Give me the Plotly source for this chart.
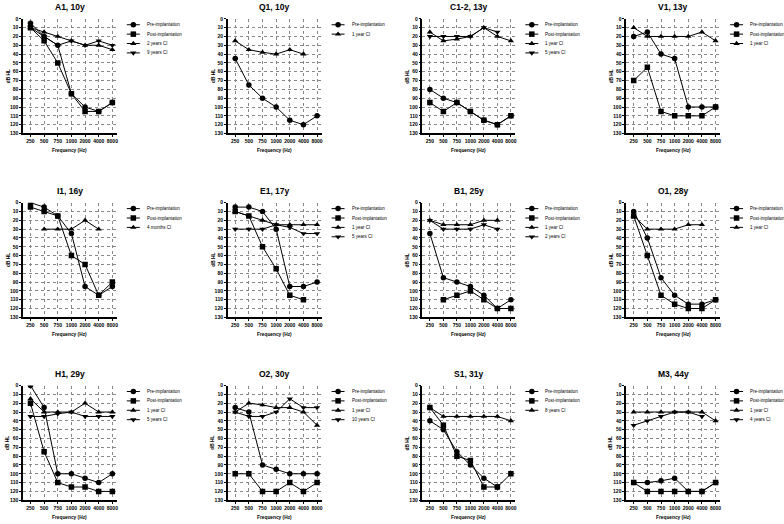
import plotly.graph_objects as go

W, H = 784, 524

freq = ["250", "500", "750", "1000", "2000", "4000", "8000"]
y_ticks = list(range(0, 131, 10))

titles = ["A1, 10y", "Q1, 10y", "C1-2, 13y", "V1, 13y",
          "I1, 16y", "E1, 17y", "B1, 25y", "O1, 28y",
          "H1, 29y", "O2, 30y", "S1, 31y", "M3, 44y"]

A1_pre = [5, 20, 30, 85, 100, 105, 95]
A1_post = [10, 25, 50, 85, 105, 105, 95]
A1_ci_2y = [10, 15, 20, 25, 30, 30, 35]
A1_ci_9y = [10, 20, 30, 25, 30, 25, 30]

Q1_pre = [45, 75, 90, 100, 115, 120, 110]
Q1_ci_1y = [25, 35, 38, 40, 35, 40, None]

C12_pre = [80, 90, 95, 105, 115, 120, 110]
C12_post = [95, 105, 95, 105, 115, 120, 110]
C12_ci_1y = [15, 25, 23, 20, 10, 20, 25]
C12_ci_5y = [20, 20, 20, 20, 10, 15, None]

V1_pre = [20, 15, 40, 45, 100, 100, 100]
V1_post = [70, 55, 105, 110, 110, 110, 100]
V1_ci_1y = [10, 20, 20, 20, 20, 15, 25]

I1_pre = [0, 5, 15, 35, 95, 105, 95]
I1_post = [5, 10, 15, 60, 70, 105, 90]
I1_ci_4m = [None, 30, 30, 30, 20, 30, None]

E1_pre = [5, 5, 10, 30, 95, 95, 90]
E1_post = [10, 15, 50, 75, 105, 110, None]
E1_ci_1y = [10, 15, 20, 25, 25, 25, 25]
E1_ci_5y = [30, 30, 30, 25, 28, 35, 35]

B1_pre = [35, 85, 90, 95, 105, 120, 110]
B1_post = [None, 110, 105, 100, 110, 120, 120]
B1_ci_1y = [20, 25, 25, 25, 20, 20, None]
B1_ci_2y = [20, 30, 30, 30, 25, 30, None]

O1_pre = [10, 40, 85, 105, 115, 115, 110]
O1_post = [15, 60, 105, 115, 120, 120, 110]
O1_ci_1y = [15, 30, 30, 30, 25, 25, None]

H1_pre = [0, 25, 100, 100, 105, 110, 100]
H1_post = [20, 75, 110, 115, 115, 120, 120]
H1_ci_1y = [15, 30, 30, 30, 20, 30, 30]
H1_ci_5y = [35, 35, 32, 30, 35, 35, 35]

O2_pre = [25, 30, 90, 95, 100, 100, 100]
O2_post = [100, 100, 120, 120, 110, 120, 110]
O2_ci_1y = [30, 20, 22, 25, 25, 30, 45]
O2_ci_10y = [30, 35, 35, 30, 15, 25, 25]

S1_pre = [40, 50, 75, 90, 105, 115, None]
S1_post = [25, 45, 80, 85, 115, 115, 100]
S1_ci_8y = [25, 35, 35, 35, 35, 35, 40]

M3_pre = [110, 110, 108, 105, 120, 120, 110]
M3_post = [110, 120, 120, 120, 120, 120, 110]
M3_ci_1y = [30, 30, 30, 30, 30, 30, 40]
M3_ci_4y = [45, 40, 35, 30, 30, 35, None]

PRE, POST = "Pre-implantation", "Post-implantation"
panels = [
    [(PRE, A1_pre, "circle"), (POST, A1_post, "square"), ("2 years CI", A1_ci_2y, "triangle-up"), ("9 years CI", A1_ci_9y, "triangle-down")],
    [(PRE, Q1_pre, "circle"), ("1 year CI", Q1_ci_1y, "triangle-up")],
    [(PRE, C12_pre, "circle"), (POST, C12_post, "square"), ("1 year CI", C12_ci_1y, "triangle-up"), ("5 years CI", C12_ci_5y, "triangle-down")],
    [(PRE, V1_pre, "circle"), (POST, V1_post, "square"), ("1 year CI", V1_ci_1y, "triangle-up")],
    [(PRE, I1_pre, "circle"), (POST, I1_post, "square"), ("4 months CI", I1_ci_4m, "triangle-up")],
    [(PRE, E1_pre, "circle"), (POST, E1_post, "square"), ("1 year CI", E1_ci_1y, "triangle-up"), ("5 years CI", E1_ci_5y, "triangle-down")],
    [(PRE, B1_pre, "circle"), (POST, B1_post, "square"), ("1 year CI", B1_ci_1y, "triangle-up"), ("2 years CI", B1_ci_2y, "triangle-down")],
    [(PRE, O1_pre, "circle"), (POST, O1_post, "square"), ("1 year CI", O1_ci_1y, "triangle-up")],
    [(PRE, H1_pre, "circle"), (POST, H1_post, "square"), ("1 year CI", H1_ci_1y, "triangle-up"), ("5 years CI", H1_ci_5y, "triangle-down")],
    [(PRE, O2_pre, "circle"), (POST, O2_post, "square"), ("1 year CI", O2_ci_1y, "triangle-up"), ("10 years CI", O2_ci_10y, "triangle-down")],
    [(PRE, S1_pre, "circle"), (POST, S1_post, "square"), ("8 years CI", S1_ci_8y, "triangle-up")],
    [(PRE, M3_pre, "circle"), (POST, M3_post, "square"), ("1 year CI", M3_ci_1y, "triangle-up"), ("4 years CI", M3_ci_4y, "triangle-down")],
]

# layout geometry in pixels
rows = [(16, 132), (202, 318), (387, 503)]
cols = [(23, 117), (228, 322), (423, 516), (627, 721)]
FONT = "Liberation Sans, Arial, sans-serif"

def px(x):
    return x / W

def py(y):
    return 1 - y / H

fig = go.Figure()
layout = dict(width=W, height=H, margin=dict(l=0, r=0, t=0, b=0),
              paper_bgcolor="white", plot_bgcolor="rgba(0,0,0,0)", showlegend=False,
              font=dict(family=FONT, color="black"))
annotations = []
shapes = []

leg_x, leg_y, leg_sym = [], [], []

for i, series in enumerate(panels):
    r, c = divmod(i, 4)
    top, bot = rows[r]
    left, right = cols[c]
    n = i + 1
    xa = "xaxis" if n == 1 else f"xaxis{n}"
    ya = "yaxis" if n == 1 else f"yaxis{n}"
    xr = "x" if n == 1 else f"x{n}"
    yr = "y" if n == 1 else f"y{n}"
    layout[xa] = dict(domain=[px(left), px(right)], anchor=yr, type="category",
                      categoryorder="array", categoryarray=freq,
                      range=[-0.55, 6.33], showline=True, linecolor="black", linewidth=1.5,
                      ticks="outside", ticklen=2, tickwidth=1, tickcolor="black",
                      showgrid=True, gridcolor="#888", griddash="dot", gridwidth=0.8,
                      tickfont=dict(size=5, family=FONT, weight="bold"), fixedrange=True)
    layout[ya] = dict(domain=[py(bot), py(top)], anchor=xr, range=[130, 0],
                      tickvals=y_ticks, showline=True, linecolor="black", linewidth=1.5,
                      ticks="outside", ticklen=2, tickwidth=1, tickcolor="black",
                      showgrid=True, gridcolor="#888", griddash="dot", gridwidth=0.8,
                      zeroline=False,
                      tickfont=dict(size=5, family=FONT, weight="bold"), fixedrange=True)
    for name, vals, sym in series:
        fig.add_trace(go.Scatter(x=freq, y=vals, mode="lines+markers", name=name,
                                 xaxis=xr, yaxis=yr,
                                 line=dict(color="black", width=1),
                                 marker=dict(symbol=sym, size=5.5, color="black")))
    # title
    annotations.append(dict(x=px((left + right) / 2), y=py(top - 12), xref="paper", yref="paper",
                            xanchor="center", yanchor="middle",
                            text=titles[i], showarrow=False,
                            font=dict(size=8.5, family=FONT, weight="bold")))
    annotations.append(dict(x=px((left + right) / 2), y=py(bot + 17), xref="paper", yref="paper",
                            xanchor="center", yanchor="middle",
                            text="Frequency (Hz)", showarrow=False,
                            font=dict(size=4.8, family=FONT, weight="bold")))
    annotations.append(dict(x=px(left - 15), y=py((top + bot) / 2), xref="paper", yref="paper",
                            xanchor="center", yanchor="middle",
                            text="dB HL", textangle=-90, showarrow=False,
                            font=dict(size=4.8, family=FONT, weight="bold")))
    # legend
    for k, (name, vals, sym) in enumerate(series):
        ly = top + 6 + k * 9.5
        x0, x1 = right + 10, right + 23
        shapes.append(dict(type="line", xref="paper", yref="paper",
                           x0=px(x0), x1=px(x1), y0=py(ly), y1=py(ly),
                           line=dict(color="black", width=1)))
        leg_x.append((x0 + x1) / 2)
        leg_y.append(ly)
        leg_sym.append(sym)
        annotations.append(dict(x=px(right + 28), y=py(ly), xref="paper", yref="paper",
                                text=name, showarrow=False, xanchor="left", yanchor="middle",
                                font=dict(size=4.5, family=FONT)))

# legend markers on an overlay axis in pixel units
layout["xaxis13"] = dict(domain=[0, 1], range=[0, W], visible=False, fixedrange=True, anchor="y13")
layout["yaxis13"] = dict(domain=[0, 1], range=[H, 0], visible=False, fixedrange=True, anchor="x13")
fig.add_trace(go.Scatter(x=leg_x, y=leg_y, mode="markers", xaxis="x13", yaxis="y13",
                         marker=dict(symbol=leg_sym, size=5.5, color="black"), hoverinfo="skip"))

layout["annotations"] = annotations
layout["shapes"] = shapes
fig.update_layout(**layout)
fig.write_html("out.html", config={"displayModeBar": False},
               post_script="document.body.style.margin='0';")
